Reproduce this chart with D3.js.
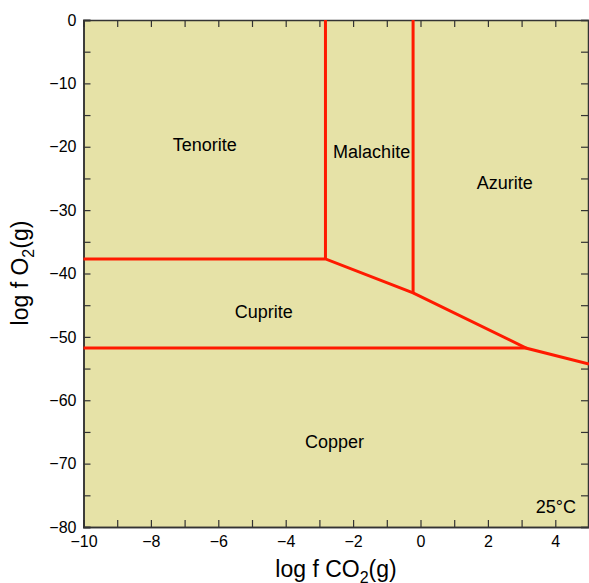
<!DOCTYPE html>
<html>
<head>
<meta charset="utf-8">
<script src="https://cdn.jsdelivr.net/npm/d3@7"></script>
<style>
body { margin: 0; background: #fff; }
text { font-family: "Liberation Sans", Arial, sans-serif; }
</style>
</head>
<body>
<svg id="chart" width="589" height="583"></svg>
<script>
// phase boundaries (log f CO2, log f O2)
var upperBoundary = [[-10, -37.7], [-2.82, -37.7], [-0.22, -43.05], [3.15, -51.8], [5, -54.3]];
var lowerBoundary = [[-10, -51.75], [3.15, -51.75]];
var malachiteLeft = [[-2.82, 0], [-2.82, -37.7]];
var malachiteRight = [[-0.22, 0], [-0.22, -43.05]];

var fieldNames = ["Tenorite", "Malachite", "Azurite", "Cuprite", "Copper"];
var fieldX = [-6.4, -1.45, 2.5, -4.65, -2.55];
var fieldY = [-19.6, -20.8, -25.6, -46.1, -66.6];

var xMajor = [-10, -8, -6, -4, -2, 0, 2, 4];
var xMinor = [-9, -7, -5, -3, -1, 1, 3];
var yMajor = [0, -10, -20, -30, -40, -50, -60, -70, -80];
var yMinor = [-5, -15, -25, -35, -45, -55, -65, -75];

var svg = d3.select("#chart");
var plotL = 83.5, plotT = 20, plotR = 589, plotB = 527;

var x = d3.scaleLinear().domain([-10, 5]).range([plotL, plotL + 15 * 33.7]);
var y = d3.scaleLinear().domain([0, -80]).range([plotT, plotB]);

svg.append("rect")
	.attr("x", plotL).attr("y", plotT)
	.attr("width", x(5) - plotL).attr("height", plotB - plotT)
	.attr("fill", "#e6e2a7");

var fmt = function(d) { return d < 0 ? "\u2212" + Math.abs(d) : "" + d; };

// axes with inward ticks
var g = svg.append("g");
g.append("g").attr("transform", "translate(0," + plotB + ")")
	.call(d3.axisBottom(x).tickValues(xMajor).tickSize(-7).tickPadding(9).tickFormat(fmt));
g.append("g").attr("transform", "translate(0," + plotB + ")")
	.call(d3.axisBottom(x).tickValues(xMinor).tickSize(-7).tickFormat(""));
g.append("g").attr("transform", "translate(0," + plotT + ")")
	.call(d3.axisTop(x).tickValues(xMajor.concat(xMinor)).tickSize(-7).tickFormat(""));
g.append("g").attr("transform", "translate(" + plotL + ",0)")
	.call(d3.axisLeft(y).tickValues(yMajor).tickSize(-7).tickPadding(7).tickFormat(fmt));
g.append("g").attr("transform", "translate(" + plotL + ",0)")
	.call(d3.axisLeft(y).tickValues(yMinor).tickSize(-7).tickFormat(""));
g.append("g").attr("transform", "translate(" + (plotR - 1) + ",0)")
	.call(d3.axisRight(y).tickValues(yMajor.concat(yMinor)).tickSize(-7).tickFormat(""));

g.selectAll(".domain").attr("stroke", "#333").attr("stroke-width", 1.5);
g.selectAll(".tick line").attr("stroke", "#333").attr("stroke-width", 1.2);
g.selectAll("g").attr("font-size", 16).attr("font-family", "Liberation Sans, Arial, sans-serif");
g.selectAll(".tick text").attr("fill", "#000");

// boundaries
var line = d3.line().x(function(d) { return x(d[0]); }).y(function(d) { return y(d[1]); });
[upperBoundary, lowerBoundary, malachiteLeft, malachiteRight].forEach(function(pts) {
	svg.append("path")
		.attr("d", line(pts))
		.attr("fill", "none")
		.attr("stroke", "#ff1a00")
		.attr("stroke-width", 3);
});

// field labels
fieldNames.forEach(function(name, i) {
	svg.append("text")
		.attr("x", x(fieldX[i])).attr("y", y(fieldY[i]))
		.attr("dy", "0.35em")
		.attr("text-anchor", "middle")
		.attr("font-size", 18)
		.text(name);
});

svg.append("text")
	.attr("x", 576).attr("y", 513)
	.attr("text-anchor", "end")
	.attr("font-size", 18)
	.text("25\u00B0C");

// axis titles
var xt = svg.append("text")
	.attr("x", 336).attr("y", 577)
	.attr("text-anchor", "middle")
	.attr("font-size", 23);
xt.append("tspan").text("log f CO");
xt.append("tspan").attr("font-size", 16).attr("dy", 6).text("2");
xt.append("tspan").attr("dy", -6).text("(g)");

var yt = svg.append("text")
	.attr("transform", "translate(28," + 273 + ") rotate(-90)")
	.attr("text-anchor", "middle")
	.attr("font-size", 23);
yt.append("tspan").text("log f O");
yt.append("tspan").attr("font-size", 16).attr("dy", 6).text("2");
yt.append("tspan").attr("dy", -6).text("(g)");
</script>
</body>
</html>
